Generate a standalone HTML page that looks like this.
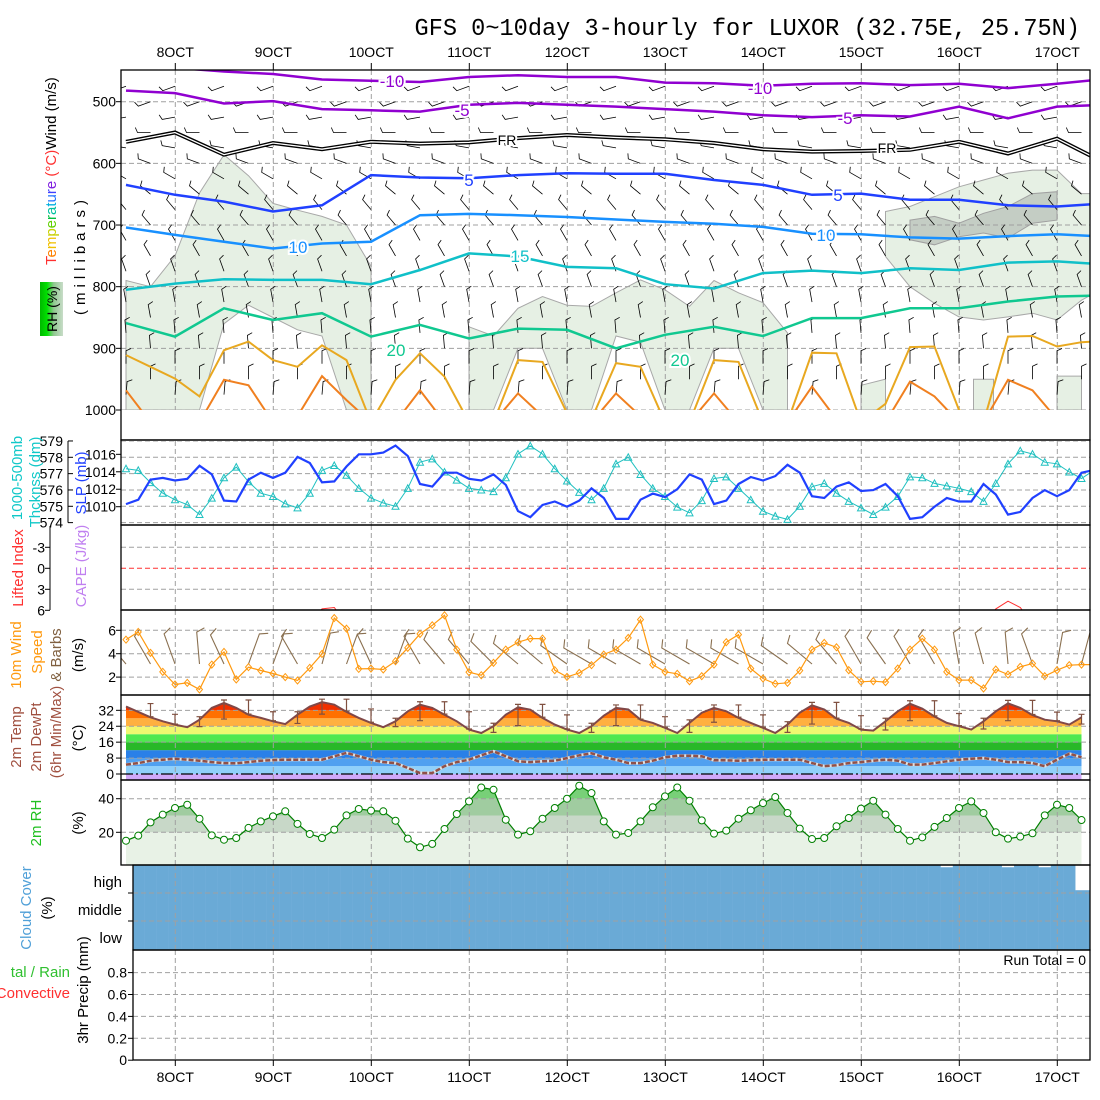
<!DOCTYPE html>
<html><head><meta charset="utf-8">
<style>
body{margin:0;background:#fff}
svg{display:block;font-family:"Liberation Sans",sans-serif}
.lab{font-size:15px}
</style></head>
<body>
<svg id="chart" width="1100" height="1100" viewBox="0 0 1100 1100" xmlns="http://www.w3.org/2000/svg">
<defs>
<clipPath id="cTop"><rect x="121" y="70" width="969" height="340"/></clipPath>
<clipPath id="cP2"><rect x="121" y="441" width="969" height="84"/></clipPath>
<clipPath id="cP3"><rect x="121" y="525" width="969" height="85"/></clipPath>
<clipPath id="cP4"><rect x="121" y="610" width="969" height="85"/></clipPath>
<clipPath id="cP5"><rect x="121" y="695" width="969" height="85"/></clipPath>
<clipPath id="cP6"><rect x="121" y="780" width="969" height="85"/></clipPath>
<clipPath id="cP7"><rect x="133" y="865" width="957" height="85"/></clipPath>
<clipPath id="cP8"><rect x="133" y="950" width="957" height="110"/></clipPath>
<linearGradient id="rhg" x1="0" x2="1" y1="0" y2="0"><stop offset="0" stop-color="#00b800"/><stop offset="0.3" stop-color="#00e000"/><stop offset="0.6" stop-color="#90c890"/><stop offset="1" stop-color="#c8dcc8"/></linearGradient>
</defs>
<rect width="1100" height="1100" fill="#fff"/>
<text x="1080" y="35" text-anchor="end" font-family="Liberation Mono, monospace" font-size="23.6">GFS 0~10day 3-hourly for LUXOR (32.75E, 25.75N)</text>

<g id="gTop" clip-path="url(#cTop)"></g>
<g id="gP2" clip-path="url(#cP2)"></g>
<g id="gP3" clip-path="url(#cP3)"></g>
<g id="gP4" clip-path="url(#cP4)"></g>
<g id="gP5" clip-path="url(#cP5)"></g>
<g id="gP6" clip-path="url(#cP6)"></g>
<g id="gP7" clip-path="url(#cP7)"></g>
<g id="gP8" clip-path="url(#cP8)"></g>
<g id="gAx"></g>

<g font-size="17" paint-order="stroke" stroke="#fff" stroke-width="4">
<text x="392" y="87" fill="#9000d0" text-anchor="middle">-10</text>
<text x="760" y="94" fill="#9000d0" text-anchor="middle">-10</text>
<text x="462" y="116" fill="#9000d0" text-anchor="middle">-5</text>
<text x="845" y="124" fill="#9000d0" text-anchor="middle">-5</text>
<text x="507" y="145" fill="#000" font-size="14" text-anchor="middle">FR</text>
<text x="887" y="153" fill="#000" font-size="14" text-anchor="middle">FR</text>
<text x="469" y="186" fill="#2040ff" text-anchor="middle">5</text>
<text x="838" y="201" fill="#2040ff" text-anchor="middle">5</text>
<text x="298" y="253" fill="#1890ff" text-anchor="middle">10</text>
<text x="826" y="241" fill="#1890ff" text-anchor="middle">10</text>
<text x="520" y="262" fill="#10c0c8" text-anchor="middle">15</text>
<text x="396" y="356" fill="#10c890" text-anchor="middle">20</text>
<text x="680" y="366" fill="#10c890" text-anchor="middle">20</text>
</g>

<g class="lab">
<text transform="translate(56,265) rotate(-90)" font-size="15"><tspan fill="#ff3030">T</tspan><tspan fill="#ff8000">e</tspan><tspan fill="#f0c000">m</tspan><tspan fill="#c8d000">p</tspan><tspan fill="#60d000">e</tspan><tspan fill="#00c040">r</tspan><tspan fill="#00c0a0">a</tspan><tspan fill="#00b0e0">t</tspan><tspan fill="#2070ff">u</tspan><tspan fill="#4040ff">r</tspan><tspan fill="#8020e0">e</tspan><tspan fill="#ff3030"> (°C)</tspan><tspan fill="#000">Wind (m/s)</tspan></text>
<text transform="translate(85,255) rotate(-90)" text-anchor="middle" font-size="15" letter-spacing="5">(millibars)</text>
<rect x="40" y="282" width="23" height="54" fill="url(#rhg)"/>
<text transform="translate(57,309) rotate(-90)" text-anchor="middle" font-size="14">RH (%)</text>

<text transform="translate(22,478) rotate(-90)" text-anchor="middle" fill="#10c8c8">1000-500mb</text>
<text transform="translate(40,482) rotate(-90)" text-anchor="middle" fill="#10c8c8">Thcknss (dm)</text>
<text transform="translate(86,483) rotate(-90)" text-anchor="middle" fill="#2040ff">SLP (mb)</text>

<text transform="translate(23,568) rotate(-90)" text-anchor="middle" fill="#ff3030">Lifted Index</text>
<text transform="translate(86,566) rotate(-90)" text-anchor="middle" fill="#c080f0">CAPE (J/kg)</text>

<text transform="translate(21,655) rotate(-90)" text-anchor="middle" fill="#ff9a10">10m Wind</text>
<text transform="translate(42,652) rotate(-90)" text-anchor="middle" fill="#ff9a10">Speed</text>
<text transform="translate(61,655) rotate(-90)" text-anchor="middle" fill="#806040">&amp; Barbs</text>
<text transform="translate(83,655) rotate(-90)" text-anchor="middle">(m/s)</text>

<text transform="translate(21,737) rotate(-90)" text-anchor="middle" fill="#a05040">2m Temp</text>
<text transform="translate(41,737) rotate(-90)" text-anchor="middle" fill="#a05040">2m DewPt</text>
<text transform="translate(61,732) rotate(-90)" text-anchor="middle" fill="#a05040">(6hr Min/Max)</text>
<text transform="translate(83,738) rotate(-90)" text-anchor="middle">(°C)</text>

<text transform="translate(41,823) rotate(-90)" text-anchor="middle" fill="#20c020">2m RH</text>
<text transform="translate(83,823) rotate(-90)" text-anchor="middle">(%)</text>

<text transform="translate(31,908) rotate(-90)" text-anchor="middle" fill="#50a0d8">Cloud Cover</text>
<text transform="translate(52,908) rotate(-90)" text-anchor="middle">(%)</text>
<text x="122" y="887" text-anchor="end">high</text>
<text x="122" y="915" text-anchor="end">middle</text>
<text x="122" y="943" text-anchor="end">low</text>

<text x="70" y="977" text-anchor="end" fill="#30c030">tal / Rain</text>
<text x="70" y="998" text-anchor="end" fill="#ff3030">Convective</text>
<text transform="translate(88,990) rotate(-90)" text-anchor="middle">3hr Precip (mm)</text>
<text x="1086" y="965" text-anchor="end" font-size="14">Run Total = 0</text>
</g>
</svg>

<script>
// ---------------- DATA ----------------
const dayLabels = ["8OCT","9OCT","10OCT","11OCT","12OCT","13OCT","14OCT","15OCT","16OCT","17OCT"];
const pressureTicks = [500,600,700,800,900,1000];
const iso_m10 = [440,445,451,455,464,466,468,460,457,460,460,469,470,474,471,470,473,471,478,471,463];
const iso_m5  = [482,486,503,499,512,514,516,505,502,505,508,512,516,522,525,522,524,508,527,508,505];
const iso_fr  = [565,550,586,567,577,565,568,566,559,554,558,561,567,577,581,580,578,565,584,560,600];
const iso_5   = [635,651,662,678,668,619,623,624,619,616,617,617,627,635,651,649,659,659,668,670,665];
const iso_10  = [704,716,727,738,730,727,684,682,684,687,691,695,698,703,714,715,720,722,718,715,719];
const iso_15  = [805,795,788,789,789,796,773,746,751,768,770,796,803,778,774,778,770,773,761,759,764];
const iso_20  = [859,881,835,854,843,881,862,884,868,870,900,878,865,880,851,851,835,835,824,816,814];
const iso_25  = [911,930,949,978,903,889,919,930,895,919,1020,951,908,946,1020,1020,919,922,1005,1015,924,930,1020,1020,919,922,1020,1020,907,908,1020,990,898,897,1000,1020,881,880,897,890,888];
const iso_30  = [968,1020,1020,1020,951,960,1020,1010,945,984,1020,1020,968,1020,1020,1020,973,1010,1020,1020,973,1010,1020,1020,973,1020,1020,1020,962,1015,1020,1020,954,978,1020,1020,951,968,1015,1020,1020];
const rhLowTop = [790,800,750,648,586,620,665,676,686,700,767,null,null,null,865,880,835,816,830,832,810,789,805,832,790,810,826,875,null,null,960,950,null,null,null,950,null,null,945,945,null];
const rhLowBot = [1000,1000,1000,1000,860,830,850,870,880,1000,1000,null,null,null,1000,1000,900,900,1000,1000,880,890,1000,1000,900,900,1000,1000,null,null,1000,1000,null,null,null,1000,null,null,1000,1000,null];
const rhUpTop = [null,null,null,null,null,null,null,null,null,null,null,null,null,null,null,null,null,null,null,null,null,null,null,null,null,null,null,null,null,null,null,678,670,654,638,627,616,611,611,649,649];
const rhUpBot = [null,null,null,null,null,null,null,null,null,null,null,null,null,null,null,null,null,null,null,null,null,null,null,null,null,null,null,null,null,null,null,751,800,827,849,854,849,843,854,822,800];
const rhDarkTop = [null,null,null,null,null,null,null,null,null,null,null,null,null,null,null,null,null,null,null,null,null,null,null,null,null,null,null,null,null,null,null,null,692,686,697,681,670,649,646,null,null];
const rhDarkBot = [null,null,null,null,null,null,null,null,null,null,null,null,null,null,null,null,null,null,null,null,null,null,null,null,null,null,null,null,null,null,null,null,724,732,719,713,721,697,692,null,null];
const barbLevels = [475,500,525,550,575,600,625,650,675,700,725,750,775,800,825,850,875,900,925,950,975];
const barbDirs   = [250,250,260,270,280,290,300,310,320,320,330,330,340,340,350,350,355,355,0,0,5];

const slp = [1010.3,1010.8,1013.1,1013.3,1013.0,1013.2,1014.7,1013.7,1010.7,1010.6,1013.1,1013.9,1013.3,1013.9,1015.7,1015.0,1012.8,1012.9,1014.6,1016.0,1016.0,1016.2,1017.0,1015.8,1012.6,1012.3,1013.9,1013.9,1013.2,1013.0,1013.7,1012.5,1009.5,1008.8,1010.2,1010.6,1010.0,1010.7,1012.1,1011.0,1008.6,1008.6,1010.8,1011.5,1011.1,1012.0,1013.7,1013.1,1010.3,1010.7,1012.6,1013.4,1013.0,1013.5,1014.8,1013.9,1011.2,1011.0,1012.3,1012.8,1011.8,1011.9,1012.6,1011.2,1008.6,1008.8,1010.0,1011.0,1010.6,1010.6,1012.6,1011.4,1009.1,1009.4,1011.0,1011.9,1011.2,1011.9,1013.9,1014.2];
const thickness = [577.3,577.2,576.45,575.8,575.4,575.1,574.5,575.5,576.75,577.4,576.5,575.8,575.6,575.15,574.9,575.8,577.2,577.5,576.9,576.1,575.5,575.2,575.0,576.1,577.7,577.9,577.1,576.6,576.1,576.0,575.9,576.75,578.2,578.7,578.2,577.3,576.55,575.85,575.4,576.1,577.6,578.0,576.95,576.1,575.6,574.95,574.6,575.35,576.7,576.8,576.1,575.4,574.7,574.4,574.2,575.0,576.2,576.4,575.8,575.3,574.9,574.5,574.95,575.6,576.8,576.75,576.4,576.25,576.1,575.9,575.3,576.4,577.6,578.4,578.2,577.7,577.6,577.1,576.7,577.2];
const slpTicks = [1010,1012,1014,1016];
const thickTicks = [574,575,576,577,578,579];
const liIndex = [8,8,8,8,8,8,8,8,8,8,8,8,8,8,8,8,5.8,5.6,8,8,8,8,8,8,8,8,8,8,8,8,8,8,8,8,8,8,8,8,8,8,8,8,8,8,8,8,8,8,8,8,8,8,8,8,8,8,8,8,8,8,8,8,8,8,8,8,8,8,8,8,8,5.8,4.7,5.6,8,8,8,8,8,8];
const liTicks = [-3,0,3,6];
const windSpeed = [5.2,5.86,4.07,2.45,1.37,1.51,0.94,3.07,4.15,1.8,2.85,2.56,2.31,2.0,1.71,2.79,3.98,7.05,6.14,2.7,2.73,2.65,3.36,4.5,5.69,6.43,7.28,4.35,2.42,2.16,3.22,4.35,4.98,5.29,5.29,2.59,2.02,2.36,3.02,3.93,4.35,5.35,6.91,3.07,2.45,2.28,1.65,2.08,3.07,4.98,5.63,2.73,1.88,1.43,1.51,2.56,4.35,4.92,4.55,2.59,1.6,1.65,1.57,2.73,4.35,5.29,4.35,2.45,1.74,1.74,1.03,2.65,2.22,2.88,3.16,2.08,2.59,3.02,3.07,3.07];
const windDir = [320,330,340,355,335,20,20,330,15,20,335,20,330,320,320,315,310,310,305,300,300,300,300,300,300,300,300,305,310,320,330,325,330,330,350,345,355,340,10,15];
const windTicks = [2,4,6];
const temp2m = [33.9,31.2,28.5,26.5,24.8,23.5,27.3,33.2,35.7,33.2,29.8,28.2,26.5,25.1,29.8,33.9,36.1,34.8,31.2,28.2,25.7,23.5,26.5,31.5,34.8,33.2,29.8,26.5,22.3,20.6,24.0,29.8,33.5,32.3,28.2,24.8,22.3,20.6,24.0,29.3,33.2,32.4,27.3,25.7,23.2,20.6,25.7,30.8,33.2,31.5,28.2,25.7,23.2,20.6,24.8,30.8,34.5,32.4,27.8,25.7,22.3,21.8,26.5,31.5,35.3,32.8,28.9,25.7,24.0,22.3,26.5,31.5,35.5,33.2,29.6,27.3,26.5,24.8,28.5];
const dew2m = [4.7,5.5,6.7,7.2,7.7,7.2,6.7,6.0,5.5,5.4,6.0,6.7,7.0,7.2,7.2,7.2,7.2,8.9,10.6,8.9,7.2,6.0,5.5,3.0,0.5,0.5,3.9,6.0,7.2,9.4,11.4,8.9,6.4,6.0,6.4,6.7,8.0,9.4,10.4,8.4,7.2,5.5,5.5,6.7,8.4,9.2,9.2,8.9,6.9,6.9,6.7,6.9,7.2,7.2,7.2,7.2,5.5,3.9,4.4,5.5,6.0,6.7,7.2,6.7,4.7,4.7,5.5,6.4,7.2,7.7,8.0,7.2,6.0,6.0,5.5,3.9,7.2,10.2,8.4];
const tempTicks = [0,8,16,24,32];
const rh2m = [15.0,18.0,25.9,30.5,34.5,36.4,28.1,18.2,15.6,16.6,22.6,26.5,29.5,32.5,25.0,19.0,16.6,21.6,30.1,33.9,32.9,32.5,26.9,16.2,11.1,13.1,22.0,30.9,38.4,46.7,45.3,27.5,18.6,20.6,28.1,34.5,40.0,47.7,43.4,26.5,18.6,19.6,26.5,34.9,41.4,46.7,38.8,27.1,19.2,21.0,28.1,33.1,37.4,41.0,31.5,22.2,16.0,16.6,23.6,28.5,34.1,38.8,30.5,22.0,15.0,17.0,23.2,28.5,34.5,38.4,31.5,20.0,16.2,17.4,19.4,30.1,36.4,34.5,27.3];
const rhTicks = [20,40];
const cloudHigh = [100,100,100,100,100,100,100,100,100,100,100,100,100,100,100,100,100,100,100,100,100,100,100,100,100,100,100,100,100,100,100,100,100,100,100,100,100,100,100,100,100,100,100,100,100,100,100,100,100,100,100,100,100,100,100,100,100,100,100,100,100,100,100,100,100,100,100,92,100,100,100,100,92,100,100,92,100,100,10,10];
const cloudMid = [100,100,100,100,100,100,100,100,100,100,100,100,100,100,100,100,100,100,100,100,100,100,100,100,100,100,100,100,100,100,100,100,100,100,100,100,100,100,100,100,100,100,100,100,100,100,100,100,100,100,100,100,100,100,100,100,100,100,100,100,100,100,100,100,100,100,100,100,100,100,100,100,100,100,100,100,100,100,100,100];
const cloudLow = [100,100,100,100,100,100,100,100,100,100,100,100,100,100,100,100,100,100,100,100,100,100,100,100,100,100,100,100,100,100,100,100,100,100,100,100,100,100,100,100,100,100,100,100,100,100,100,100,100,100,100,100,100,100,100,100,100,100,100,100,100,100,100,100,100,100,100,100,100,100,100,100,100,100,100,100,100,100,100,100];
const precipTotal = [0,0,0,0,0,0,0,0,0,0,0,0,0,0,0,0,0,0,0,0,0,0,0,0,0,0,0,0,0,0,0,0,0,0,0,0,0,0,0,0,0,0,0,0,0,0,0,0,0,0,0,0,0,0,0,0,0,0,0,0,0,0,0,0,0,0,0,0,0,0,0,0,0,0,0,0,0,0,0,0];
const precipTicks = [0,0.2,0.4,0.6,0.8];

// ---------------- HELPERS ----------------
const svg = document.getElementById('chart');
const NS = 'http://www.w3.org/2000/svg';
function mk(tag, attrs, parent){const e=document.createElementNS(NS,tag);for(const k in attrs)e.setAttribute(k,attrs[k]);(parent||svg).appendChild(e);return e;}
const g = id => document.getElementById(id);
const X = i => 126 + 12.25*i;
const X6 = k => 126 + 24.5*k;
const X12 = k => 126 + 49*k;
const XD = d => 175.3 + 98*d;
const PY = p => 101.7 + (p-500)*0.6166;
const SLPY = v => 506.7 - (v-1010)*8.73;
const THY = v => 457.3 + (578-v)*16.33;
const LIY = v => 568.3 + v*7.0;
const WSY = v => 630.3 + (6-v)*11.7;
const TY = v => 774 - v*1.99;
const RHY = v => 832.3 - (v-20)*1.68;
const PRY = v => 1060.2 - v*109.5;
const pts = (arr, xf, yf) => arr.map((v,i)=>xf(i).toFixed(1)+','+yf(v).toFixed(1)).join(' ');

function vgrid(parent, y0, y1){
  dayLabels.forEach((d,k)=>{
    const l = mk('line',{x1:XD(k),x2:XD(k),y1:y0,y2:y1,stroke:'#a0a0a0','stroke-dasharray':'5,3','stroke-width':1},parent);
    
    
  });
}
function hgrid(parent, y, x0){
  const l = mk('line',{x1:x0||121,x2:1090,y1:y,y2:y,stroke:'#a0a0a0','stroke-dasharray':'5,3','stroke-width':1},parent);
  
  
}
function regionPaths(top, bot, xf){
  const segs=[]; let cur=[];
  top.forEach((t,k)=>{ if(t==null){ if(cur.length) segs.push(cur); cur=[]; } else cur.push(k); });
  if(cur.length) segs.push(cur);
  return segs.map(s=>{
    let p=[];
    if(s.length===1){const k=s[0];p=[[xf(k)-10,PY(top[k])],[xf(k)+10,PY(top[k])],[xf(k)+10,PY(bot[k])],[xf(k)-10,PY(bot[k])]];}
    else { s.forEach(k=>p.push([xf(k),PY(top[k])])); s.slice().reverse().forEach(k=>p.push([xf(k),PY(bot[k])])); }
    return 'M'+p.map(q=>q[0].toFixed(1)+','+q[1].toFixed(1)).join('L')+'Z';
  });
}
function barbPath(x,y,dir,len,fl){
  const r=dir*Math.PI/180, dx=Math.sin(r), dy=-Math.cos(r);
  const x2=x+dx*len, y2=y+dy*len;
  const fx=x2+(-dy)*fl+dx*fl*0.45, fy=y2+(dx)*fl+dy*fl*0.45;
  return 'M'+x.toFixed(1)+','+y.toFixed(1)+'L'+x2.toFixed(1)+','+y2.toFixed(1)+'L'+fx.toFixed(1)+','+fy.toFixed(1);
}

// ---------------- TOP PANEL ----------------
const gt = g('gTop');
regionPaths(rhLowTop, rhLowBot, X6).forEach(d=>{
  const e = mk('path',{d:d,fill:'#e6f0e4',stroke:'#a8a8a8','stroke-width':1},gt);
  
  
});
regionPaths(rhUpTop, rhUpBot, X6).forEach(d=>{
  const e = mk('path',{d:d,fill:'#e6f0e4',stroke:'#a8a8a8','stroke-width':1},gt);
  
  
});
regionPaths(rhDarkTop, rhDarkBot, X6).forEach(d=>{
  const e = mk('path',{d:d,fill:'#c4cdc4',stroke:'#a0a0a0','stroke-width':1},gt);
  
  
});
vgrid(gt,70,440);
pressureTicks.forEach(p=>hgrid(gt,PY(p)));
let bd='';
barbLevels.forEach((p,r)=>{
  for(let i=(r%2)*2;i<80;i+=4){ bd += barbPath(X(i),PY(p),barbDirs[r],13,5); }
});
const barbs = mk('path',{d:bd,fill:'none',stroke:'#000','stroke-width':0.8},gt);


const isoDefs = [
  [iso_m10,'#9000d0',2.5,X12,'isotherm-minus10'],
  [iso_m5,'#9000d0',2.5,X12,'isotherm-minus5'],
  [iso_5,'#2040ff',2.5,X12,'isotherm-5'],
  [iso_10,'#1890ff',2.5,X12,'isotherm-10'],
  [iso_15,'#10c0c8',2.5,X12,'isotherm-15'],
  [iso_20,'#10c890',2.5,X12,'isotherm-20'],
  [iso_25,'#e8a820',2,X6,'isotherm-25'],
  [iso_30,'#f08020',2,X6,'isotherm-30']
];
isoDefs.forEach(d=>{
  const e = mk('polyline',{points:pts(d[0],d[3],PY),fill:'none',stroke:d[1],'stroke-width':d[2]},gt);
  
  
});
const fr1 = mk('polyline',{points:pts(iso_fr,X12,PY),fill:'none',stroke:'#000','stroke-width':4},gt);


const fr2 = mk('polyline',{points:pts(iso_fr,X12,PY),fill:'none',stroke:'#fff','stroke-width':1.3},gt);



// ---------------- PANEL 2 ----------------
const g2 = g('gP2');
vgrid(g2,441,525);
thickTicks.forEach(t=>hgrid(g2,THY(t)));
const thl = mk('polyline',{points:pts(thickness,X,THY),fill:'none',stroke:'#20c0c0','stroke-width':1},g2);


thickness.forEach((v,i)=>{
  const x=X(i), y=THY(v);
  const t = mk('path',{d:'M'+(x-3.5)+','+(y+3)+'L'+(x+3.5)+','+(y+3)+'L'+x+','+(y-3.5)+'Z',fill:'none',stroke:'#20c0c0','stroke-width':1},g2);
  
  
});
const sl = mk('polyline',{points:pts(slp,X,SLPY),fill:'none',stroke:'#2040ff','stroke-width':2.2},g2);



// ---------------- PANEL 3 ----------------
const g3 = g('gP3');
vgrid(g3,525,610);
liTicks.forEach(t=>{ if(t!==0) hgrid(g3,LIY(t)); });
const zl = mk('line',{x1:121,x2:1090,y1:LIY(0),y2:LIY(0),stroke:'#ff3030','stroke-dasharray':'5,3','stroke-width':1},g3);


const lil = mk('polyline',{points:pts(liIndex,X,LIY),fill:'none',stroke:'#ff3030','stroke-width':1},g3);



// ---------------- PANEL 4 ----------------
const g4 = g('gP4');
vgrid(g4,610,695);
windTicks.forEach(t=>hgrid(g4,WSY(t)));
let sb='';
windDir.forEach((d,k)=>{ sb += barbPath(X(2*k),664,d,32,8); });
const sbp = mk('path',{d:sb,fill:'none',stroke:'#8a7050','stroke-width':1.1},g4);


const wl = mk('polyline',{points:pts(windSpeed,X,WSY),fill:'none',stroke:'#ff9a10','stroke-width':1.2},g4);


windSpeed.forEach((v,i)=>{
  const x=X(i), y=WSY(v);
  const m = mk('path',{d:'M'+x+','+(y-3.5)+'L'+(x+3)+','+y+'L'+x+','+(y+3.5)+'L'+(x-3)+','+y+'Z',fill:'none',stroke:'#ff9a10','stroke-width':1},g4);
  
  
});

// ---------------- PANEL 5 ----------------
const g5 = g('gP5');
const defs = svg.querySelector('defs');
const cpT = mk('clipPath',{id:'cTemp'},defs);
const tpoly = pts(temp2m,X,TY)+' '+X(temp2m.length-1)+',790 '+X(0)+',790';
mk('polygon',{points:tpoly},cpT);
const bandG = mk('g',{'clip-path':'url(#cTemp)'},g5);


const bands = [[-20,0,'#d0a8f8'],[0,4,'#90d0fa'],[4,8,'#50a0f0'],[8,12,'#2a80e8'],[12,16,'#28b828'],[16,20,'#50e850'],[20,24,'#f0f870'],[24,28,'#ffb040'],[28,32,'#ff7000'],[32,50,'#f03000']];
bands.forEach(b=>{
  const r = mk('rect',{x:121,y:TY(b[1]),width:969,height:TY(b[0])-TY(b[1]),fill:b[2]},bandG);
  
  
});
vgrid(g5,695,780);
tempTicks.forEach(t=>{ if(t!==0) hgrid(g5,TY(t)); });
const z0 = mk('line',{x1:121,x2:1090,y1:TY(0),y2:TY(0),stroke:'#000','stroke-dasharray':'12,3,2,3','stroke-width':1.3},g5);


const tl = mk('polyline',{points:pts(temp2m,X,TY),fill:'none',stroke:'#804848','stroke-width':2},g5);


const dw1 = mk('polyline',{points:pts(dew2m,X,TY),fill:'none',stroke:'#e0e0e0','stroke-width':3},g5);


const dw2 = mk('polyline',{points:pts(dew2m,X,TY),fill:'none',stroke:'#905048','stroke-width':2.5,'stroke-dasharray':'5,2'},g5);


for(let i=2;i<temp2m.length;i+=2){
  const seg=[temp2m[i-2],temp2m[i-1],temp2m[i]];
  const hi=Math.max(...seg)+1.5, lo=Math.min(...seg)+0.3;
  const x=X(i);
  const e = mk('path',{d:'M'+x+','+TY(hi)+'L'+x+','+TY(lo)+'M'+(x-3)+','+TY(hi)+'L'+(x+3)+','+TY(hi)+'M'+(x-3)+','+TY(lo)+'L'+(x+3)+','+TY(lo),fill:'none',stroke:'#805040','stroke-width':1.2},g5);
  
  
}

// ---------------- PANEL 6 ----------------
const g6 = g('gP6');
const cpR = mk('clipPath',{id:'cRH'},defs);
mk('polygon',{points:pts(rh2m,X,RHY)+' '+X(rh2m.length-1)+',866 '+X(0)+',866'},cpR);
const rhG = mk('g',{'clip-path':'url(#cRH)'},g6);


[[0,20,'#e8f2e6'],[20,30,'#c8d8c8'],[30,40,'#a0cca0'],[40,100,'#78d078']].forEach(b=>{
  const r = mk('rect',{x:121,y:RHY(b[1]),width:969,height:RHY(b[0])-RHY(b[1]),fill:b[2]},rhG);
  
  
});
vgrid(g6,780,865);
rhTicks.forEach(t=>hgrid(g6,RHY(t)));
const rl = mk('polyline',{points:pts(rh2m,X,RHY),fill:'none',stroke:'#008000','stroke-width':1.2},g6);


rh2m.forEach((v,i)=>{
  const c = mk('circle',{cx:X(i),cy:RHY(v),r:3.5,fill:'#fff',stroke:'#008000','stroke-width':1},g6);
  
  
});

// ---------------- PANEL 7 (cloud) ----------------
const g7 = g('gP7');
const rows = [[cloudHigh,865,893,'high'],[cloudMid,893,921,'middle'],[cloudLow,921,950,'low']];
rows.forEach(r=>{
  r[0].forEach((v,i)=>{
    const h=(r[2]-r[1])*v/100;
    const c = mk('rect',{x:X(i)-6.2,y:r[2]-h,width:12.4,height:h,fill:'#6aaad6'},g7);
    
    
  });
});
const cEdge = mk('rect',{x:133,y:865,width:6,height:85,fill:'#6aaad6'},g7);


vgrid(g7,865,950);
hgrid(g7,893,133); hgrid(g7,921,133);

// ---------------- PANEL 8 (precip) ----------------
const g8 = g('gP8');
vgrid(g8,950,1060);
precipTicks.forEach(t=>{ if(t>0) hgrid(g8,PRY(t),133); });
precipTotal.forEach((v,i)=>{
  if(v>0){
    const b = mk('rect',{x:X(i)-5,y:PRY(v),width:10,height:PRY(0)-PRY(v),fill:'#30c030'},g8);
    
    
  }
});

// ---------------- AXES / FRAMES ----------------
const ga = g('gAx');
[[121,70,440],[121,440,525],[121,525,610],[121,610,695],[121,695,780],[121,780,865],[133,865,950],[133,950,1060]].forEach(f=>{
  const r = mk('rect',{x:f[0],y:f[1],width:1090-f[0],height:f[2]-f[1],fill:'none',stroke:'#000','stroke-width':1.3},ga);
  
  
});
function ytick(x,y,label,anchorX){
  const l = mk('line',{x1:x-5,x2:x,y1:y,y2:y,stroke:'#000','stroke-width':1},ga);
  
  
  if(label!==null){
    const t = mk('text',{x:anchorX,y:y+5,'text-anchor':'end','font-size':14},ga);
    t.textContent = label;
    
    
  }
}
pressureTicks.forEach(p=>ytick(121,PY(p),String(p),116));
slpTicks.forEach(v=>ytick(121,SLPY(v),String(v),116));
const thAx = mk('line',{x1:68,x2:68,y1:THY(579),y2:THY(574),stroke:'#000','stroke-width':1},ga);


thickTicks.forEach(v=>{
  const l = mk('line',{x1:68,x2:73,y1:THY(v),y2:THY(v),stroke:'#000'},ga);
  
  
  const t = mk('text',{x:63,y:THY(v)+5,'text-anchor':'end','font-size':14},ga);
  t.textContent = String(v);
  
  
});
const liAx = mk('line',{x1:50,x2:50,y1:526,y2:610,stroke:'#000','stroke-width':1},ga);


liTicks.forEach(v=>{
  const l = mk('line',{x1:45,x2:50,y1:LIY(v),y2:LIY(v),stroke:'#000'},ga);
  
  
  const t = mk('text',{x:45,y:LIY(v)+5,'text-anchor':'end','font-size':14},ga);
  t.textContent = String(v);
  
  
});
windTicks.forEach(v=>ytick(121,WSY(v),String(v),116));
tempTicks.forEach(v=>ytick(121,TY(v),String(v),114));
rhTicks.forEach(v=>ytick(121,RHY(v),String(v),114));
ytick(133,893,null,0); ytick(133,921,null,0);
precipTicks.forEach(v=>ytick(133,PRY(v),String(v),127));
dayLabels.forEach((d,k)=>{
  const x=XD(k);
  [[63,70,57],[1060,1066,1082]].forEach(a=>{
    const l = mk('line',{x1:x,x2:x,y1:a[0],y2:a[1],stroke:'#000'},ga);
    
    
    const t = mk('text',{x:x,y:a[2],'text-anchor':'middle','font-size':14},ga);
    t.textContent = d;
    
    
  });
});
</script>
</body></html>
